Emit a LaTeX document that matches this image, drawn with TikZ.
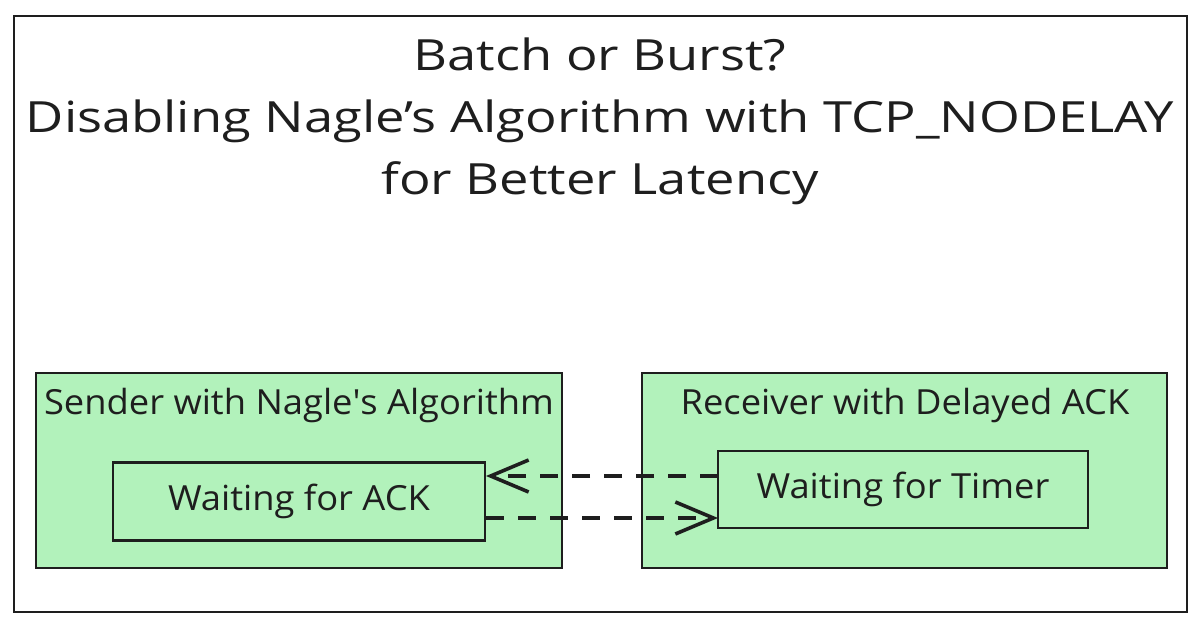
\documentclass[tikz,border=0pt]{standalone}
\usepackage{fontspec}
\setmainfont{Open Sans}
\newfontfamily\titlefont[FakeStretch=1.22,Ligatures=TeX]{Open Sans}
\newfontfamily\labelfont[FakeStretch=1.05,Ligatures=TeX]{Open Sans}
\usetikzlibrary{arrows.meta}
\definecolor{ink}{HTML}{1E1E1E}
\definecolor{boxgreen}{HTML}{B2F2BB}
\tikzset{
  frame/.style={draw=ink, line width=1.4pt},
  group/.style={draw=ink, fill=boxgreen, line width=1.2pt},
  state/.style={draw=ink, line width=1.2pt, fill=boxgreen},
  lbl/.style={text=ink, font=\labelfont\fontsize{17.3}{20}\selectfont, inner sep=0pt},
  ttl/.style={text=ink, font=\titlefont\fontsize{21.5}{31}\selectfont, align=center, inner sep=0pt},
  conn/.style={draw=ink, line width=1.8pt, dash pattern=on 9pt off 7pt,
     -{Straight Barb[length=19pt,width=16pt,line width=1.8pt]}}
}
\begin{document}
\begin{tikzpicture}[x=0.5pt,y=-0.5pt]
\useasboundingbox (0,0) rectangle (1200,630);
\fill[white] (0,0) rectangle (1200,630);
\draw[frame] (14,16) rectangle (1187,612);
\node[ttl] (title) at (600,121) {Batch or Burst?\\Disabling Nagle’s Algorithm with TCP\_NODELAY\\for Better Latency};
\path[group] (36,373) rectangle (562,568);
\path[group] (642,373) rectangle (1167,568);
\node[lbl] (sendlbl) at (299,406) {Sender with Nagle\textquotesingle s Algorithm};
\node[lbl] (recvlbl) at (905,406) {Receiver with Delayed ACK};
\node[state, minimum width=186pt, minimum height=39pt, inner sep=0pt] (ack) at (299,501.5) {};
\node[lbl] (acktxt) at (ack.center) {Waiting for ACK};
\node[state, minimum width=185pt, minimum height=38.5pt, inner sep=0pt] (timer) at (903,489.5) {};
\node[lbl] (timertxt) at (timer.center) {Waiting for Timer};
\coordinate (a1) at (718,476);
\coordinate (a2) at (486,476);
\coordinate (b1) at (486,518);
\coordinate (b2) at (718,518);
\draw[conn] (a1) -- (a2);
\draw[conn] (b1) -- (b2);
\end{tikzpicture}
\end{document}
